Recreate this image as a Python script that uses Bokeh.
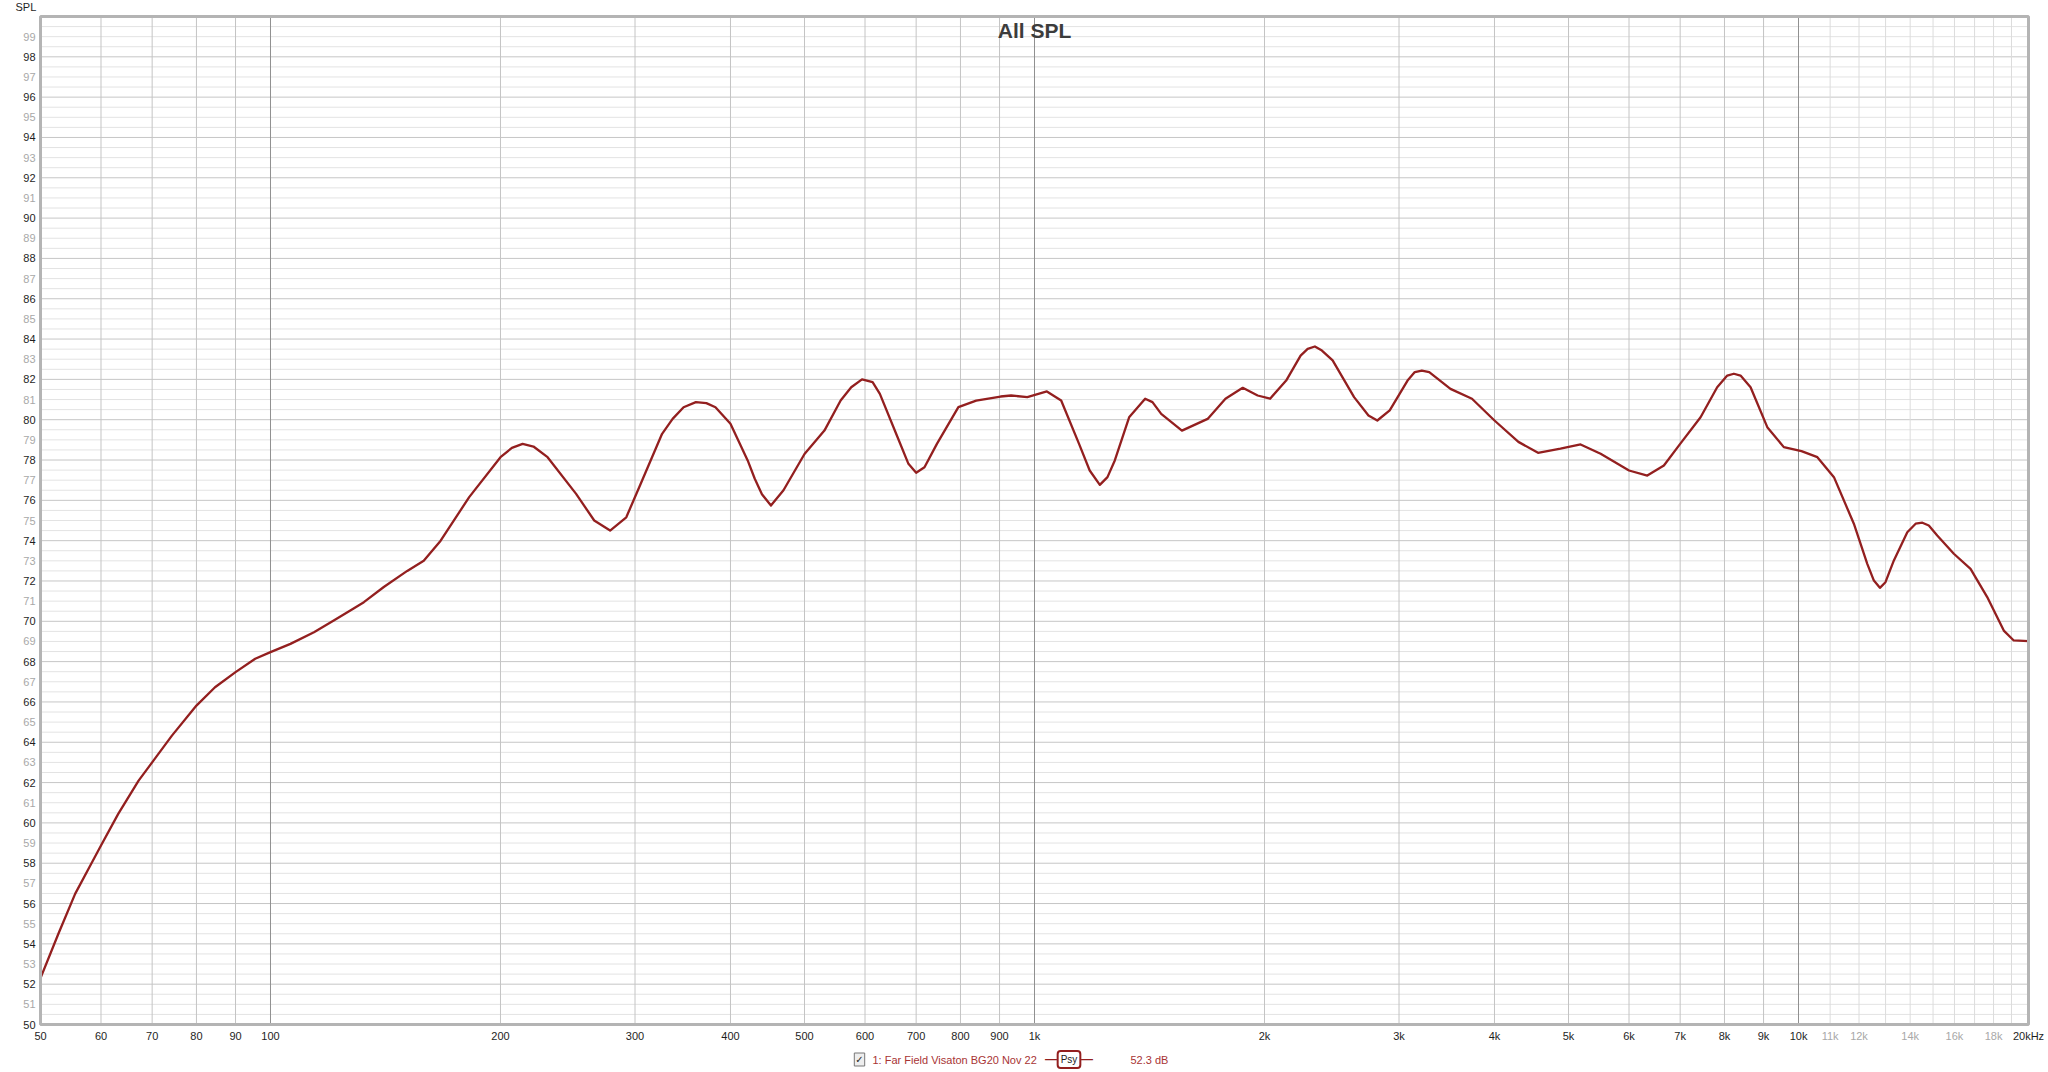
import math
from bokeh.plotting import figure
from bokeh.models import ColumnDataSource, Range1d
from bokeh.core.properties import value
from bokeh.embed import file_html
from bokeh.resources import INLINE

# ---------------- data ----------------
title_text = "All SPL"
y_axis_name = "SPL"
series_name = "1: Far Field Visaton BG20 Nov 22"
series_tag = "Psy"
series_readout = "52.3 dB"

x_min, x_max = 50, 20000      # Hz
y_min, y_max = 50, 100        # dB

freq_hz = [50, 52.77, 55.5, 58.4, 60, 63.2, 67.2, 70, 74.3, 80, 84.6, 90, 95.5, 100,
           106.2, 114, 121, 127.2, 132.5, 140.7, 151, 158.7, 167, 182, 200, 207, 213.8,
           220.9, 230.5, 251.2, 265.3, 278.3, 292.2, 305, 325.5, 336, 347.3, 360.4, 372,
           382.3, 400, 421.3, 430.4, 439.8, 451.9, 469.3, 500, 530.9, 557.5, 575.6, 594.6,
           613.9, 627.5, 661.9, 683.9, 700, 717.8, 745.2, 795, 838.8, 902.8, 932, 978.6,
           1038, 1083.7, 1143.7, 1181, 1217.6, 1246, 1273.8, 1330, 1395.8, 1427, 1465,
           1559.5, 1685, 1778, 1873, 1959, 2034, 2135, 2230, 2278, 2328, 2378, 2456, 2620,
           2736, 2810, 2917, 3078, 3146, 3214, 3286, 3503, 3738, 4000, 4299, 4561, 4880,
           5185, 5508, 6000, 6340, 6665, 7000, 7444, 7826, 8067, 8230, 8397, 8655, 9102,
           9567, 10090, 10585, 11127, 11815, 12303, 12550, 12780, 12996, 13330, 13880,
           14233, 14525, 14810, 15190, 15970, 16795, 17660, 18564, 19130, 20000]
spl_db = [52.3, 54.5, 56.48, 58.05, 58.88, 60.45, 62.1, 63.0, 64.33, 65.82, 66.73, 67.48,
          68.14, 68.47, 68.88, 69.46, 70.04, 70.54, 70.95, 71.7, 72.5, 73.0, 74.0, 76.16,
          78.14, 78.6, 78.8, 78.67, 78.14, 76.32, 75.0, 74.5, 75.16, 76.8, 79.3, 80.04,
          80.62, 80.87, 80.82, 80.62, 79.8, 77.98, 77.07, 76.3, 75.74, 76.5, 78.3, 79.46,
          80.95, 81.61, 82.0, 81.86, 81.28, 79.13, 77.81, 77.37, 77.64, 78.8, 80.62, 80.95,
          81.15, 81.2, 81.12, 81.4, 80.95, 78.8, 77.48, 76.77, 77.15, 77.98, 80.12, 81.04,
          80.87, 80.29, 79.46, 80.04, 81.04, 81.58, 81.2, 81.04, 81.94, 83.18, 83.51, 83.63,
          83.43, 82.94, 81.12, 80.21, 79.96, 80.46, 81.94, 82.36, 82.44, 82.36, 81.53, 81.04,
          79.96, 78.9, 78.36, 78.56, 78.77, 78.31, 77.48, 77.23, 77.73, 78.8, 80.12, 81.61,
          82.19, 82.28, 82.19, 81.61, 79.63, 78.64, 78.44, 78.14, 77.15, 74.84, 72.85,
          72.02, 71.66, 71.94, 73.02, 74.42, 74.84, 74.89, 74.75, 74.26, 73.35, 72.6, 71.2,
          69.54, 69.05, 69.02]

y_tick_vals = list(range(50, 100))
y_tick_text = [str(v) for v in y_tick_vals]

x_tick_vals = [50, 60, 70, 80, 90, 100, 200, 300, 400, 500, 600, 700, 800, 900, 1000,
               2000, 3000, 4000, 5000, 6000, 7000, 8000, 9000, 10000, 11000, 12000, 14000,
               16000, 18000, 20000]
x_tick_text = ["50", "60", "70", "80", "90", "100", "200", "300", "400", "500", "600", "700",
               "800", "900", "1k", "2k", "3k", "4k", "5k", "6k", "7k", "8k", "9k", "10k",
               "11k", "12k", "14k", "16k", "18k", "20kHz"]
x_tick_muted = ["11k", "12k", "14k", "16k", "18k"]

x_grid_major = [100, 1000, 10000]
x_grid_mid = [60, 70, 80, 90, 200, 300, 400, 500, 600, 700, 800, 900,
              2000, 3000, 4000, 5000, 6000, 7000, 8000, 9000]
x_grid_fine = [11000, 12000, 13000, 14000, 15000, 16000, 17000, 18000, 19000]
y_grid_major = [v for v in range(52, 100, 2)]
y_grid_minor = [v + h for v in y_tick_vals for h in (0.0, 0.5)
                if not (h == 0.0 and v % 2 == 0) and v + h > y_min]

# ---------------- layout (pixels) ----------------
W, H = 2046, 1070
PX_LEFT, PX_RIGHT, PX_TOP, PX_BOTTOM = 40, 2028, 16, 1024
decade_px = (PX_RIGHT - PX_LEFT) / math.log10(x_max / x_min)
db_px = (PX_BOTTOM - PX_TOP) / (y_max - y_min)
x_lo = x_min / 10 ** (PX_LEFT / decade_px)
x_hi = x_max * 10 ** ((W - PX_RIGHT) / decade_px)
y_hi = y_max + PX_TOP / db_px
y_lo = y_min - (H - PX_BOTTOM) / db_px
x_mid = math.sqrt(x_min * x_max)

FONT = "Liberation Sans"
DARK = "#1e1e1e"
MUTED = "#a8a8a8"
CURVE = "#931f1f"
LEGEND_RED = "#a83434"

p = figure(width=W, height=H, x_axis_type="log",
           x_range=Range1d(x_lo, x_hi), y_range=Range1d(y_lo, y_hi),
           x_axis_location=None, y_axis_location=None,
           output_backend="svg", toolbar_location=None, title=None, min_border=0)
p.xgrid.visible = False
p.ygrid.visible = False
p.outline_line_color = None
p.background_fill_color = "white"
p.border_fill_color = "white"

# grid lines
def hlines(vals, color):
    p.segment(x0=[x_min] * len(vals), x1=[x_max] * len(vals), y0=vals, y1=vals,
              line_color=color, line_width=1)

def vlines(vals, color):
    p.segment(x0=vals, x1=vals, y0=[y_min] * len(vals), y1=[y_max] * len(vals),
              line_color=color, line_width=1)

hlines(y_grid_minor, "#e3e3e3")
hlines(y_grid_major, "#c6c6c6")
vlines(x_grid_fine, "#dcdcdc")
vlines(x_grid_mid, "#c4c4c4")
vlines(x_grid_major, "#909090")

# curve
src = ColumnDataSource(dict(f=freq_hz, spl=spl_db))
p.line("f", "spl", source=src, line_color=CURVE, line_width=2.3, line_join="round")

# plot-area border
p.quad(left=[x_min], right=[x_max], bottom=[y_min], top=[y_max], fill_color=None,
       line_color="#b4b4b4", line_width=3)

# tick labels
ysrc = ColumnDataSource(dict(x=[x_min] * len(y_tick_vals), y=y_tick_vals, text=y_tick_text,
                             color=[DARK if v % 2 == 0 else MUTED for v in y_tick_vals]))
p.text(x="x", y="y", text="text", source=ysrc, x_offset=-5, y_offset=0,
       text_align="right", text_baseline="alphabetic", text_color="color",
       text_font=value(FONT), text_font_size="11px")
xsrc = ColumnDataSource(dict(x=x_tick_vals, y=[y_min] * len(x_tick_vals), text=x_tick_text,
                             color=[MUTED if t in x_tick_muted else DARK for t in x_tick_text]))
p.text(x="x", y="y", text="text", source=xsrc, y_offset=11.5,
       text_align="center", text_baseline="alphabetic", text_color="color",
       text_font=value(FONT), text_font_size="11px")

# title and axis name
p.text(x=[x_mid], y=[y_max], text=[title_text], y_offset=14,
       text_align="center", text_baseline="alphabetic", text_color="#3c3c3c",
       text_font=value(FONT), text_font_size="21px", text_font_style="bold")
p.text(x=[x_min], y=[y_max], text=[y_axis_name], x_offset=-25, y_offset=-10,
       text_align="left", text_baseline="alphabetic", text_color=DARK,
       text_font=value(FONT), text_font_size="11px")

# legend row (anchored under the 1 kHz centre line)
p.text(x=[x_mid], y=[y_min], text=["\u2713"], x_offset=-175, y_offset=35,
       text_align="center", text_baseline="middle", text_color="#222222",
       text_font=value("DejaVu Sans"), text_font_size="10px",
       border_line_color="#777777", border_line_width=1,
       background_fill_color="#eeeeee", padding=1)
p.text(x=[x_mid], y=[y_min], text=[series_name], x_offset=-162, y_offset=35.5,
       text_align="left", text_baseline="alphabetic", text_color=LEGEND_RED,
       text_font=value(FONT), text_font_size="11px")
p.text(x=[x_mid], y=[y_min], text=["\u2014\u2014\u2014\u2014"], x_offset=34.5, y_offset=34,
       text_align="center", text_baseline="alphabetic", text_color=CURVE,
       text_font=value(FONT), text_font_size="12px", text_font_style="bold")
p.text(x=[x_mid], y=[y_min], text=[series_tag], x_offset=34.5, y_offset=35,
       text_align="center", text_baseline="middle", text_color="#222222",
       text_font=value(FONT), text_font_size="10px",
       border_line_color=CURVE, border_line_width=2,
       background_fill_color="white", padding=3, border_radius=3)
p.text(x=[x_mid], y=[y_min], text=[series_readout], x_offset=96, y_offset=35.5,
       text_align="left", text_baseline="alphabetic", text_color=LEGEND_RED,
       text_font=value(FONT), text_font_size="11px")

open("out.html", "w").write(file_html(p, INLINE))
